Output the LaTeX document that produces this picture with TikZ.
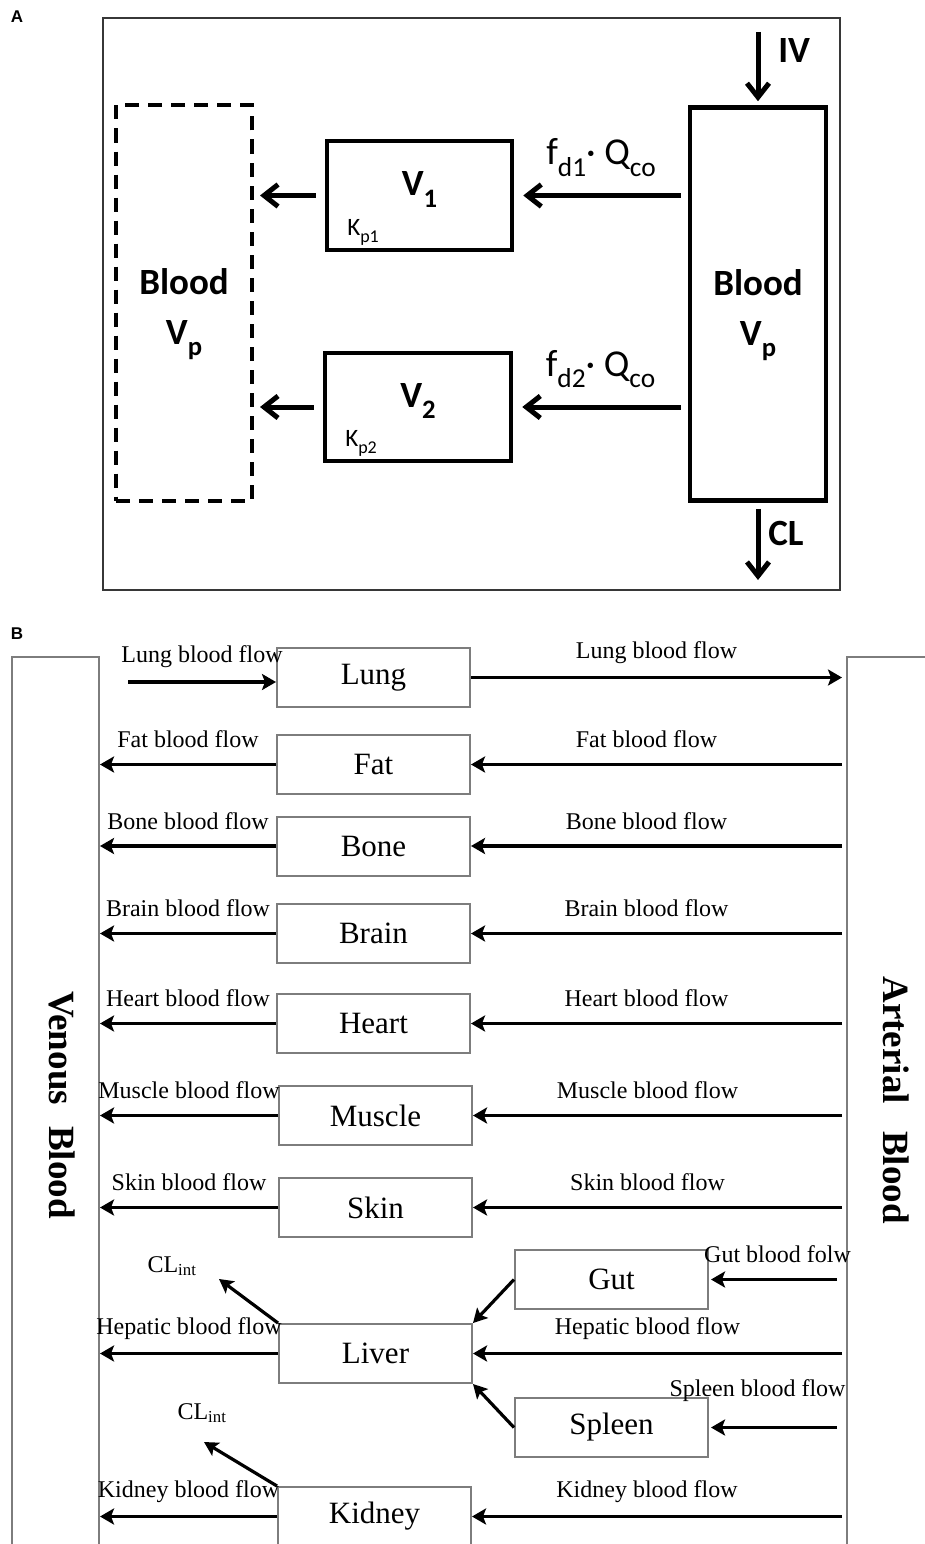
\documentclass[tikz,border=0pt]{standalone}
\usepackage{fontspec}
\setmainfont{Liberation Serif}
\newfontfamily\calibri{Carlito}
\newfontfamily\panelfont{Liberation Sans}
\usetikzlibrary{arrows.meta,positioning}
\definecolor{boxgray}{RGB}{125,125,125}
\definecolor{framegray}{RGB}{55,55,55}
\newcommand{\idx}[1]{\raisebox{-0.3em}{\scalebox{0.72}{#1}}}

\begin{document}
\begin{tikzpicture}[x=1pt, y=-1pt,
    comp/.style={draw, line width=4.5pt, inner sep=0pt, font=\calibri\bfseries\fontsize{37}{50}\selectfont},
    flowA/.style={line width=5pt, -{Straight Barb[length=14pt, width=22pt]}},
    small/.style={font=\calibri\fontsize{25}{30}\selectfont},
    rate/.style={font=\calibri\fontsize{38}{44}\selectfont},
    organ/.style={draw=boxgray, line width=2pt, minimum width=193pt, minimum height=59pt, inner sep=0pt, font=\fontsize{31}{36}\selectfont},
    vessel/.style={draw=boxgray, line width=2pt, minimum width=87pt, minimum height=926pt},
    flowB/.style={line width=3.8pt, -{Stealth[length=14pt, width=16pt, inset=3pt]}},
    diagB/.style={line width=3.2pt, -{Stealth[length=14pt, width=15pt, inset=3pt]}},
    lbl/.style={midway, yshift=25pt, font=\fontsize{24}{28}\selectfont},
    lblr/.style={lbl, xshift=-12pt}]
  \path[fill=white, use as bounding box] (0,0) rectangle (925,1544);

  % panel A
  \node[font=\panelfont\bfseries\fontsize{17}{20}\selectfont] (labA) at (17,17) {A};
  \draw[framegray, line width=2pt] (103,18) rectangle (840,590);
  \node[comp, dash pattern=on 14pt off 9pt, line width=4pt, minimum width=136pt, minimum height=395pt] (venA) at (184,303) {};
  \node[comp, draw=none, align=center] (venAtext) at ([yshift=-11pt]venA.center) {Blood\\V\idx{p}};
  \node[comp, minimum width=185pt, minimum height=109pt] (v1) at (419.5,195.5) {};
  \node[comp, draw=none] (v1text) at ([yshift=6pt]v1.center) {V\idx{1}};
  \node[small, anchor=south west] (kp1) at ([xshift=19pt, yshift=3pt]v1.south west) {K\idx{p1}};
  \node[comp, minimum width=186pt, minimum height=108pt] (v2) at (418,407) {};
  \node[comp, draw=none] (v2text) at ([yshift=6pt]v2.center) {V\idx{2}};
  \node[small, anchor=south west] (kp2) at ([xshift=19pt, yshift=3pt]v2.south west) {K\idx{p2}};
  \node[comp, minimum width=136pt, minimum height=393pt] (artA) at (758,304) {};
  \node[comp, draw=none, align=center] (artAtext) at ([yshift=-11pt]artA.center) {Blood\\V\idx{p}};

  \coordinate (iv) at (758,32);
  \coordinate (cl) at (758,580);
  \draw[flowA, shorten >=4pt] (iv) -- (artA.north)
    node[pos=0.25, right=18pt, comp, draw=none] (ivlbl) {IV};
  \draw[flowA, shorten <=6pt] (artA.south) -- (cl)
    node[pos=0.4, right=8pt, comp, draw=none] (cllbl) {CL};
  \draw[flowA, shorten <=7pt, shorten >=9pt] (v1.east -| artA.west) -- (v1.east)
    node[midway, yshift=38pt, rate] {f\idx{d1}{\textperiodcentered} Q\idx{co}};
  \draw[flowA, shorten <=7pt, shorten >=9pt] (v2.east -| artA.west) -- (v2.east)
    node[midway, yshift=38pt, rate] {f\idx{d2}{\textperiodcentered} Q\idx{co}};
  \draw[flowA, shorten <=9pt, shorten >=6pt] (v1.west) -- (v1.west -| venA.east);
  \draw[flowA, shorten <=9pt, shorten >=6pt] (v2.west) -- (v2.west -| venA.east);

  % panel B
  \node[font=\panelfont\bfseries\fontsize{17}{20}\selectfont] (labB) at (17,634) {B};
  \node[vessel] (venous) at (55.5,1120) {};
  \node[vessel, minimum width=130pt] (arterial) at (912,1120) {};
  \node[rotate=-90, font=\bfseries\fontsize{37}{40}\selectfont] (venlbl) at (62,1105) {Venous\hspace{12pt} Blood};
  \node[rotate=-90, font=\bfseries\fontsize{37}{40}\selectfont] (artlbl) at (896,1100) {Arterial\hspace{18pt} Blood};

  \node[organ] (lung) at (373.5,677.5) {Lung};
  \node[organ] (fat) at (373.5,764.5) {Fat};
  \node[organ] (bone) at (373.5,846) {Bone};
  \node[organ] (brain) at (373.5,933.5) {Brain};
  \node[organ] (heart) at (373.5,1023.5) {Heart};
  \node[organ] (muscle) at (375.5,1115.5) {Muscle};
  \node[organ] (skin) at (375.5,1207.5) {Skin};
  \node[organ] (gut) at (611.5,1279.5) {Gut};
  \node[organ] (liver) at (375.5,1353.5) {Liver};
  \node[organ] (spleen) at (611.5,1427.5) {Spleen};
  \node[organ] (kidney) at (374.5,1516.5) {Kidney};

  \coordinate (lungin) at (128,682);
  \draw[flowB] (lungin) -- (lungin -| lung.west) node[lbl] {Lung blood flow};
  \draw[flowB, shorten >=4pt] (lung.east) -- (lung.east -| arterial.west) node[lblr, xshift=10pt] {Lung blood flow};

  \draw[flowB] (fat.west) -- (fat.west -| venous.east) node[lbl] {Fat blood flow};
  \draw[flowB, shorten <=4pt] (fat.east -| arterial.west) -- (fat.east) node[lblr] {Fat blood flow};
  \draw[flowB] (bone.west) -- (bone.west -| venous.east) node[lbl] {Bone blood flow};
  \draw[flowB, shorten <=4pt] (bone.east -| arterial.west) -- (bone.east) node[lblr] {Bone blood flow};
  \draw[flowB] (brain.west) -- (brain.west -| venous.east) node[lbl] {Brain blood flow};
  \draw[flowB, shorten <=4pt] (brain.east -| arterial.west) -- (brain.east) node[lblr] {Brain blood flow};
  \draw[flowB] (heart.west) -- (heart.west -| venous.east) node[lbl] {Heart blood flow};
  \draw[flowB, shorten <=4pt] (heart.east -| arterial.west) -- (heart.east) node[lblr] {Heart blood flow};
  \draw[flowB] (muscle.west) -- (muscle.west -| venous.east) node[lbl] {Muscle blood flow};
  \draw[flowB, shorten <=4pt] (muscle.east -| arterial.west) -- (muscle.east) node[lblr] {Muscle blood flow};
  \draw[flowB] (skin.west) -- (skin.west -| venous.east) node[lbl] {Skin blood flow};
  \draw[flowB, shorten <=4pt] (skin.east -| arterial.west) -- (skin.east) node[lblr] {Skin blood flow};

  \draw[flowB, shorten <=9pt, shorten >=2pt] (gut.east -| arterial.west) -- (gut.east) node[lbl] {Gut blood folw};
  \draw[diagB] (gut.west) -- (liver.north east);
  \draw[flowB, shorten <=9pt, shorten >=2pt] (spleen.east -| arterial.west) -- (spleen.east)
    node[lbl, xshift=-20pt, yshift=12pt] {Spleen blood flow};
  \draw[diagB] (spleen.west) -- (liver.south east);
  \draw[flowB] (liver.west) -- (liver.west -| venous.east) node[lbl] {Hepatic blood flow};
  \draw[flowB, shorten <=4pt] (liver.east -| arterial.west) -- (liver.east) node[lblr] {Hepatic blood flow};
  \coordinate (clliver) at (219,1279);
  \draw[diagB] (liver.north west) -- (clliver);
  \node[font=\fontsize{24}{28}\selectfont] (clintliver) at (172,1266) {CL\textsubscript{int}};

  \coordinate (clkidney) at (204,1442);
  \draw[diagB] (kidney.north west) -- (clkidney);
  \node[font=\fontsize{24}{28}\selectfont] (clintkidney) at (202,1413) {CL\textsubscript{int}};
  \draw[flowB] (kidney.west) -- (kidney.west -| venous.east) node[lbl] {Kidney blood flow};
  \draw[flowB, shorten <=4pt] (kidney.east -| arterial.west) -- (kidney.east) node[lblr] {Kidney blood flow};
\end{tikzpicture}
\end{document}
